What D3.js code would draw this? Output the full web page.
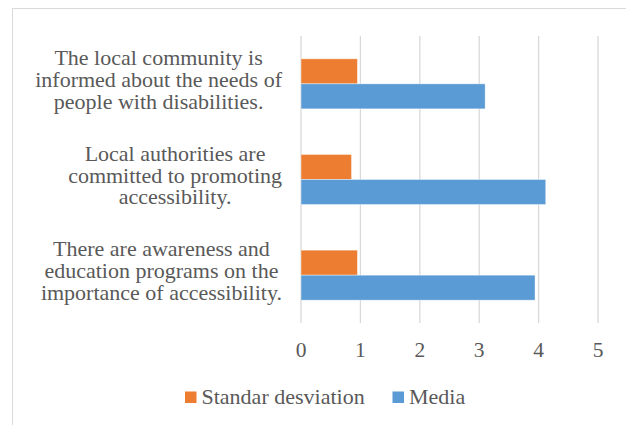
<!DOCTYPE html>
<html>
<head>
<meta charset="utf-8">
<script src="https://cdn.jsdelivr.net/npm/d3@7"></script>
<style>
  body { margin: 0; background: #fff; }
  svg text { font-family: "Liberation Serif", "Times New Roman", Times, serif; fill: #595959; }
</style>
</head>
<body>
<script>
// data
var categories = [
  ["The local community is", "informed about the needs of", "people with disabilities."],
  ["Local authorities are", "committed to promoting", "accessibility."],
  ["There are awareness and", "education programs on the", "importance of accessibility."]
];
var seriesNames = ["Standar desviation", "Media"];
var stdValues = [0.95, 0.85, 0.95];
var mediaValues = [3.1, 4.12, 3.94];
var xTicks = [0, 1, 2, 3, 4, 5];
var colors = ["#ED7D31", "#5B9BD5"];

var w = 626, h = 425;
const svg = d3.select("body").append("svg")
  .attr("width", w).attr("height", h);

// chart frame
svg.append("rect")
  .attr("x", 12.5).attr("y", 8.5)
  .attr("width", 700).attr("height", 500)
  .attr("fill", "none").attr("stroke", "#d9d9d9").attr("stroke-width", 1);

const xScale = d3.scaleLinear().domain([0, 5]).range([301, 598]);
const yScale = d3.scaleBand()
  .domain(d3.range(categories.length))
  .range([36, 323])
  .paddingInner(0.477).paddingOuter(0.2385);
const subScale = d3.scaleBand().domain([0, 1]).range([0, yScale.bandwidth()]);

// gridlines
svg.append("g").selectAll("line")
  .data(xTicks).enter().append("line")
  .attr("x1", d => xScale(d)).attr("x2", d => xScale(d))
  .attr("y1", 36).attr("y2", 323)
  .attr("stroke", "#d9d9d9").attr("stroke-width", 1.3);

// bars
var rows = categories.map((c, i) => [stdValues[i], mediaValues[i]]);
const groups = svg.append("g").selectAll("g")
  .data(rows).enter().append("g")
  .attr("transform", (d, i) => "translate(0," + yScale(i) + ")");
groups.selectAll("rect")
  .data(d => d).enter().append("rect")
  .attr("x", xScale(0))
  .attr("y", (d, j) => subScale(j))
  .attr("width", d => xScale(d) - xScale(0))
  .attr("height", subScale.bandwidth())
  .attr("fill", (d, j) => colors[j])
  .attr("stroke", "#ffffff").attr("stroke-opacity", 0.5).attr("stroke-width", 0.8);

// x tick labels
svg.append("g").selectAll("text")
  .data(xTicks).enter().append("text")
  .attr("x", d => xScale(d)).attr("y", 357)
  .attr("text-anchor", "middle")
  .style("font-size", "21.5px")
  .text(d => d);

// category labels: lines centered in a block right-aligned at x=282
var lineH = 21.7;
categories.forEach(function(lines, i) {
  var cy = yScale(i) + yScale.bandwidth() / 2;
  var g = svg.append("g");
  var t = g.selectAll("text").data(lines).enter().append("text")
    .attr("y", (d, k) => cy + 3 + (k - (lines.length - 1) / 2) * lineH)
    .attr("text-anchor", "middle")
    .style("font-size", "22px")
    .text(d => d);
  var maxW = d3.max(t.nodes(), n => n.getComputedTextLength());
  t.attr("x", 282 - maxW / 2);
});

// legend
var legend = svg.append("g");
var lx = [185, 392.5];
seriesNames.forEach(function(name, j) {
  legend.append("rect")
    .attr("x", lx[j]).attr("y", 391.5)
    .attr("width", 11.5).attr("height", 11.5)
    .attr("fill", colors[j]);
  legend.append("text")
    .attr("x", lx[j] + 16.5).attr("y", 403.5)
    .style("font-size", "22px")
    .text(name);
});
</script>
</body>
</html>
